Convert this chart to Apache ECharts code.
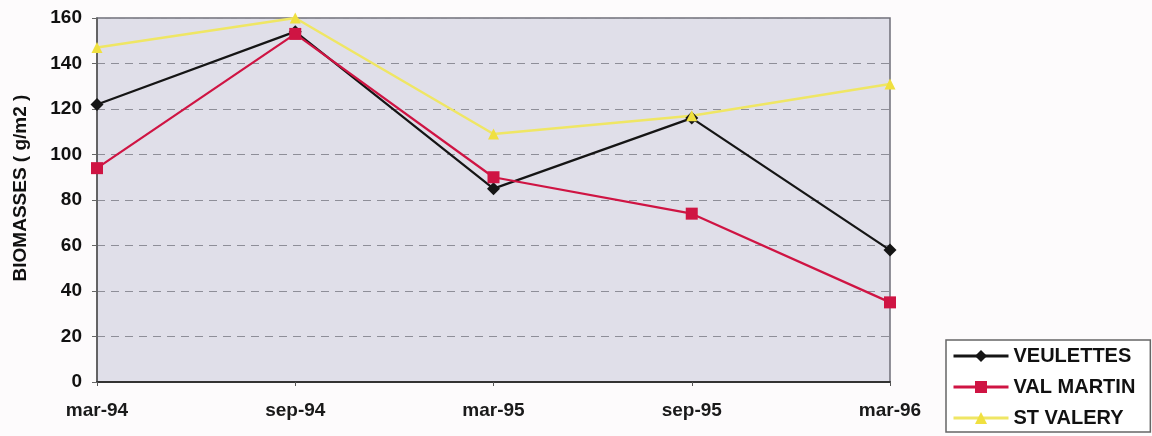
<!DOCTYPE html>
<html>
<head>
<meta charset="utf-8">
<script src="https://cdn.jsdelivr.net/npm/echarts@6/dist/echarts.min.js"></script>
<style>
  html, body { margin: 0; padding: 0; background: #fdfbfc; }
  #chart { width: 1152px; height: 436px; }
</style>
</head>
<body>
<div id="chart"></div>
<script>
// Sampling dates
const categories = ['mar-94', 'sep-94', 'mar-95', 'sep-95', 'mar-96'];

// Biomass (g/m2) per site
const veulettes = [122, 154, 85, 116, 58];
const valMartin = [94, 153, 90, 74, 35];
const stValery = [147, 160, 109, 117, 131];

const yTicks = { min: 0, max: 160, interval: 20 };

const chart = echarts.init(document.getElementById('chart'));

const font = 'Liberation Sans, Arial, sans-serif';

chart.setOption({
  animation: false,
  backgroundColor: '#fdfbfc',
  grid: {
    left: 97, right: 262, top: 18, bottom: 54,
    show: true,
    backgroundColor: '#e0dfe9',
    borderColor: '#6f6f78',
    borderWidth: 1.5
  },
  xAxis: {
    type: 'category',
    data: categories,
    boundaryGap: false,
    axisLine: { lineStyle: { color: '#333', width: 2 } },
    axisTick: { show: true, alignWithLabel: true, lineStyle: { color: '#555' }, length: 4 },
    axisLabel: { color: '#1a1a1a', fontFamily: font, fontWeight: 'bold', fontSize: 19, margin: 19 },
    splitLine: { show: false }
  },
  yAxis: {
    type: 'value',
    min: yTicks.min, max: yTicks.max, interval: yTicks.interval,
    name: 'BIOMASSES ( g/m2 )',
    nameLocation: 'middle',
    nameRotate: 90,
    nameGap: 67,
    nameTextStyle: { color: '#111', fontFamily: font, fontWeight: 'bold', fontSize: 19, padding: [0, 0, 0, 24] },
    axisLine: { show: true, lineStyle: { color: '#555', width: 1.5 } },
    axisTick: { show: true, inside: false, length: 5, lineStyle: { color: '#666' } },
    axisLabel: { color: '#111', fontFamily: font, fontWeight: 'bold', fontSize: 19, margin: 15 },
    splitLine: { show: true, lineStyle: { color: '#8e8e98', type: [8, 6], width: 1 } }
  },
  legend: {
    orient: 'vertical',
    left: 946, top: 340,
    padding: [6, 15, 4, 6],
    itemGap: 11,
    itemWidth: 55, itemHeight: 15,
    backgroundColor: '#ffffff',
    borderColor: '#666',
    borderWidth: 1.5,
    lineStyle: { width: 3 },
    textStyle: { color: '#111', fontFamily: font, fontWeight: 'bold', fontSize: 20, lineHeight: 20 },
    data: ['VEULETTES', 'VAL MARTIN', 'ST VALERY']
  },
  series: [
    {
      name: 'VEULETTES', type: 'line', data: veulettes,
      symbol: 'diamond', symbolSize: 13,
      lineStyle: { color: '#151515', width: 2.2 },
      itemStyle: { color: '#151515' }
    },
    {
      name: 'VAL MARTIN', type: 'line', data: valMartin,
      symbol: 'rect', symbolSize: 12,
      lineStyle: { color: '#cf1443', width: 2.2 },
      itemStyle: { color: '#cf1443' }
    },
    {
      name: 'ST VALERY', type: 'line', data: stValery,
      symbol: 'triangle', symbolSize: 11,
      lineStyle: { color: '#efe664', width: 2.5 },
      itemStyle: { color: '#f0e040' }
    }
  ]
});
</script>
</body>
</html>
